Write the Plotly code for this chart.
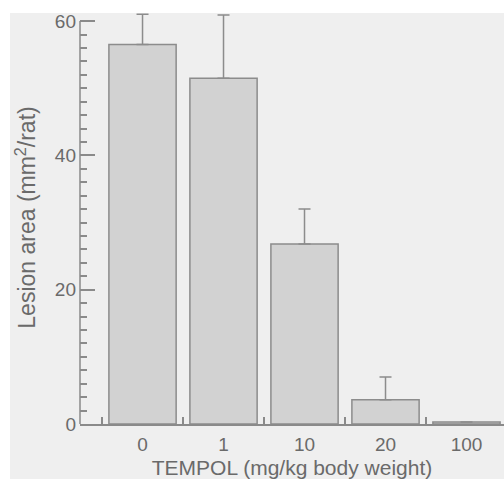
import plotly.graph_objects as go

categories = ["0", "1", "10", "20", "100"]
lesion_area = [56.5, 51.5, 26.8, 3.6, 0.3]
error_up = [4.5, 9.4, 5.2, 3.4, 0.0]
y_tick_vals = [0, 20, 40, 60]
y_axis_top = 60

gray_txt = "#6a6a6a"
axis_col = "#8a8a8a"
font_fam = "Liberation Sans, Arial, Helvetica, sans-serif"

fig = go.Figure()
fig.add_trace(go.Bar(
    x=list(range(len(categories))),
    y=lesion_area,
    width=0.83,
    marker=dict(color="#d2d2d2", line=dict(color="#8c8c8c", width=1.5)),
    error_y=dict(type="data", symmetric=False, array=error_up,
                 arrayminus=[0] * len(error_up),
                 color="#8c8c8c", thickness=1.5, width=6),
    cliponaxis=False,
    showlegend=False,
))

W, H = 504, 479
ml, mr, mt, mb = 80, 0, 11, 55
pw, ph = W - ml - mr, H - mt - mb

def px_to_paper_x(px):
    return (px - ml) / pw

def px_to_paper_y(py):
    return (H - mb - py) / ph

fig.add_shape(type="rect", xref="paper", yref="paper",
              x0=px_to_paper_x(10), x1=px_to_paper_x(530),
              y0=px_to_paper_y(510), y1=px_to_paper_y(13),
              fillcolor="#efefef", line=dict(width=0), layer="below")

# y axis line only up to the top tick
fig.add_shape(type="line", xref="paper", yref="y",
              x0=0, x1=0, y0=0, y1=y_axis_top,
              line=dict(color=axis_col, width=1.5), layer="above")

fig.update_layout(
    width=W, height=H,
    margin=dict(l=ml, r=mr, t=mt, b=mb, autoexpand=False),
    paper_bgcolor="white",
    plot_bgcolor="rgba(0,0,0,0)",
    font=dict(family=font_fam, color=gray_txt, size=19),
)

fig.update_xaxes(
    automargin=False,
    range=[-0.772, 4.463],
    tickmode="array",
    tickvals=list(range(len(categories))),
    ticktext=categories,
    ticks="",
    ticklabelstandoff=2,
    showline=True, linecolor=axis_col, linewidth=1.5,
    showgrid=False, zeroline=False,
    tickfont=dict(size=19, color=gray_txt),
    title=dict(text="TEMPOL (mg/kg body weight)", font=dict(size=21, color=gray_txt), standoff=10),
    minor=dict(tickmode="array", tickvals=[-0.5, 0.5, 1.5, 2.5, 3.5],
               ticks="inside", ticklen=7, tickcolor=axis_col, tickwidth=1.5),
)

fig.update_yaxes(
    automargin=False,
    range=[0, 61.5],
    tickmode="array", tickvals=y_tick_vals,
    ticks="inside", ticklen=15, tickcolor=axis_col, tickwidth=1.5,
    ticklabelstandoff=3,
    minor=dict(tickmode="array", tickvals=list(range(2, 60, 2)),
               ticks="inside", ticklen=7, tickcolor=axis_col, tickwidth=1.5, showgrid=False),
    showline=False,
    showgrid=False, zeroline=False,
    tickfont=dict(size=19, color=gray_txt),
    title=dict(text="Lesion area (mm<sup>2</sup>/rat)", font=dict(size=23, color=gray_txt), standoff=12),
)

fig.write_html(
    "out.html",
    config={"displayModeBar": False},
    post_script="document.body.style.margin='0';document.body.style.overflow='hidden';",
)
